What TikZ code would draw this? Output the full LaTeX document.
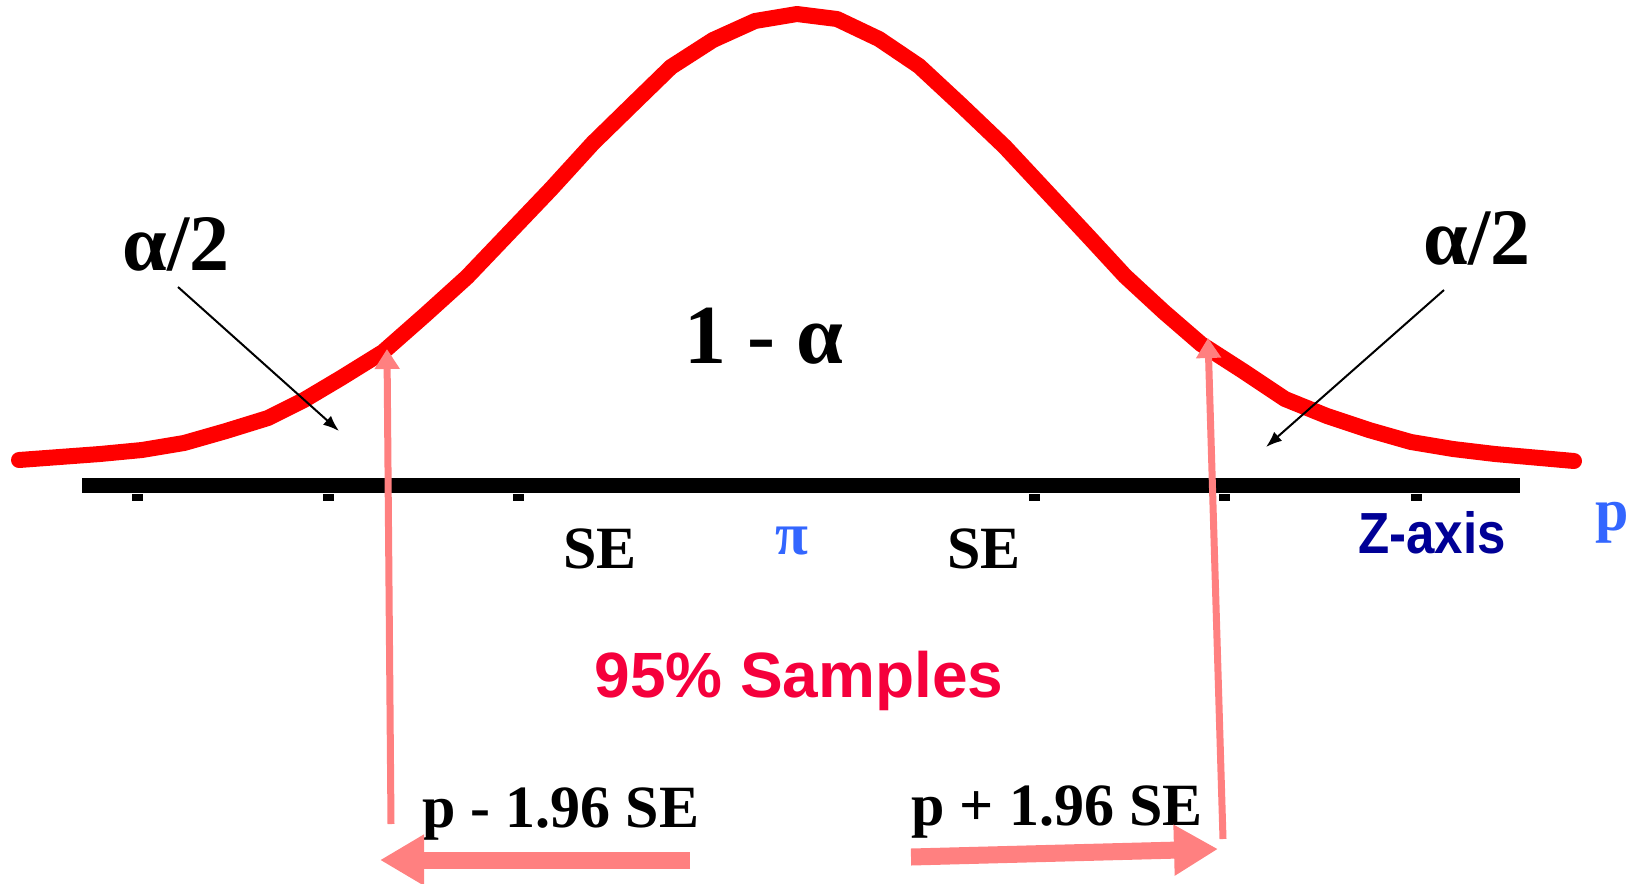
\documentclass[tikz,border=0pt]{standalone}
\usepackage{fontspec}
\setmainfont{Liberation Serif}
\setsansfont{Liberation Sans}
\newfontfamily\narrowsans[FakeStretch=0.88]{Liberation Sans}
\usetikzlibrary{arrows.meta}
\definecolor{curveRed}{RGB}{255,0,0}
\definecolor{salmon}{RGB}{255,128,128}
\definecolor{piBlue}{RGB}{51,102,255}
\definecolor{navy}{RGB}{0,0,150}
\definecolor{sampleRed}{RGB}{245,0,60}

\begin{document}
\begin{tikzpicture}[x=0.5pt, y=-0.5pt, font=\bfseries,
  lbl/.style={anchor=base, inner sep=0pt},
  pointer/.style={-{Latex[length=8pt,width=6pt]}, line width=1pt},
  bound/.style={salmon, line width=3.5pt, -{Triangle[length=10pt,width=12pt]}},
  spread/.style={salmon, line width=8.5pt, -{Triangle[length=22pt,width=24pt]}}]
\useasboundingbox (0,0) rectangle (1645,884);

% Normal curve
\draw[curveRed, line width=8pt, line cap=round, line join=round]
  (19,460) -- (100,454) -- (142,450) -- (184,443) -- (226,431) -- (268,418)
  -- (304,400) -- (341,378) -- (383,352) -- (425,315) -- (467,277) -- (509,233)
  -- (551,189) -- (593,143) -- (635,102) -- (671,67) -- (713,40) -- (755,21)
  -- (797,14) -- (837,19) -- (879,39) -- (919,66) -- (961,105) -- (1005,147)
  -- (1047,192) -- (1089,237) -- (1125,276) -- (1164,312) -- (1201,344)
  -- (1243,371) -- (1285,399) -- (1327,416) -- (1369,430) -- (1411,442)
  -- (1453,449) -- (1495,454) -- (1574,461);

% Axis
\coordinate (axisL) at (82,485);
\coordinate (axisR) at (1520,485);
\draw[line width=7.5pt] (axisL) -- (axisR);
\foreach \x in {137,328,518,1034,1224,1416} {
  \fill (\x-5.5,494) rectangle (\x+5.5,501);
}

% Labels
\node[lbl, font=\fontsize{40}{40}\selectfont\bfseries] (alphaL) at (176,270) {α/2};
\node[lbl, font=\fontsize{40}{40}\selectfont\bfseries] (alphaR) at (1477,264) {α/2};
\node[lbl, font=\fontsize{42}{42}\selectfont\bfseries] (conf) at (764,363) {1 - α};
\node[lbl, font=\fontsize{30}{30}\selectfont\bfseries] (seL) at (600,568) {SE};
\node[lbl, font=\fontsize{30}{30}\selectfont\bfseries] (seR) at (984,568) {SE};
\node[lbl, piBlue, font=\fontsize{30}{30}\selectfont\bfseries] (mean) at (792,554) {π};
\node[lbl, navy, font=\fontsize{29}{29}\narrowsans\bfseries] (zaxis) at (1432,553) {Z-axis};
\node[lbl, piBlue, font=\fontsize{30}{30}\selectfont\bfseries] (pvar) at (1612,530) {p};
\node[lbl, sampleRed, font=\fontsize{32}{32}\sffamily\bfseries] (samples) at (799,697) {95\% Samples};
\node[lbl, font=\fontsize{30}{30}\selectfont\bfseries] (lower) at (561,827) {p - 1.96 SE};
\node[lbl, font=\fontsize{30}{30}\selectfont\bfseries] (upper) at (1057,825) {p + 1.96 SE};

% Confidence bounds
\coordinate (lowBase) at (391,824);
\coordinate (lowTip) at (387,349);
\coordinate (upBase) at (1223,839);
\coordinate (upTip) at (1208,338);
\draw[bound] (lowBase) -- (lowTip);
\draw[bound] (upBase) -- (upTip);

\coordinate (lowStart) at (690,860);
\coordinate (lowEnd) at (380,860);
\coordinate (upStart) at (911,857);
\coordinate (upEnd) at (1218,849);
\draw[spread] (lowStart) -- (lowEnd);
\draw[spread] (upStart) -- (upEnd);

% Tail pointers
\coordinate (tailL) at (178,287);
\coordinate (headL) at (339,431);
\coordinate (tailR) at (1444,290);
\coordinate (headR) at (1266,447);
\draw[pointer] (tailL) -- (headL);
\draw[pointer] (tailR) -- (headR);
\end{tikzpicture}
\end{document}
